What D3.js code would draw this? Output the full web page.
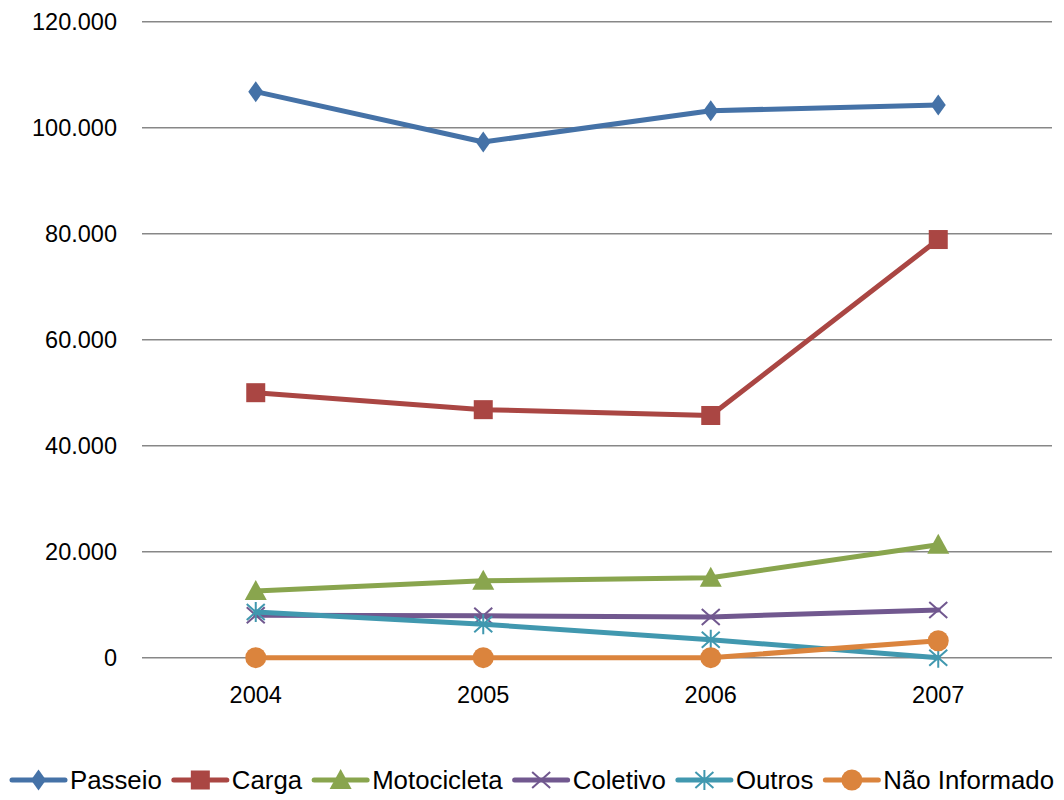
<!DOCTYPE html>
<html>
<head>
<meta charset="utf-8">
<script src="https://cdn.jsdelivr.net/npm/d3@7"></script>
<style>
  html, body { margin: 0; padding: 0; background: #fff; }
  svg { display: block; font-family: "Liberation Sans", Arial, sans-serif; }
</style>
</head>
<body>
<svg id="chart" width="1064" height="800"></svg>
<script>
// Vehicle counts per year, by vehicle type
const years = ["2004", "2005", "2006", "2007"];
const yTicks = [0, 20000, 40000, 60000, 80000, 100000, 120000];

const passeio      = [106800, 97300, 103200, 104300];
const carga        = [50000, 46800, 45700, 78900];
const motocicleta  = [12600, 14500, 15100, 21300];
const coletivo     = [8000, 7900, 7700, 9000];
const outros       = [8600, 6300, 3400, 0];
const naoInformado = [0, 0, 0, 3200];

const seriesNames  = ["Passeio", "Carga", "Motocicleta", "Coletivo", "Outros", "Não Informado"];
const seriesValues = [passeio, carga, motocicleta, coletivo, outros, naoInformado];
const seriesColors = ["#4572A7", "#AA4643", "#89A54E", "#71588F", "#4198AF", "#DB843D"];
const seriesMarkers = ["diamond", "square", "triangle", "x", "asterisk", "circle"];

const series = seriesNames.map((name, i) => ({
  name, values: seriesValues[i], color: seriesColors[i], marker: seriesMarkers[i]
}));

const svg = d3.select("#chart");
const plot = { left: 142, right: 1052, top: 21.7, bottom: 657.7 };
const FONT = "'Liberation Sans', Arial, sans-serif";

const x = d3.scaleBand().domain(years).range([plot.left, plot.right]);
const y = d3.scaleLinear().domain([0, 120000]).range([plot.bottom, plot.top]);
const fmt = v => v === 0 ? "0" : d3.format(",")(v).replace(/,/g, ".");

// Horizontal gridlines
svg.append("g")
  .selectAll("line")
  .data(yTicks)
  .join("line")
  .attr("x1", plot.left).attr("x2", plot.right)
  .attr("y1", d => y(d)).attr("y2", d => y(d))
  .attr("stroke", "#878787").attr("stroke-width", 1.5);

// Y axis labels
const yAxis = svg.append("g")
  .attr("transform", `translate(${plot.left - 25},0)`)
  .call(d3.axisLeft(y).tickValues(yTicks).tickFormat(fmt).tickSize(0).tickPadding(0));
yAxis.select(".domain").remove();
yAxis.selectAll("text")
  .attr("font-size", 23.5).attr("fill", "#000").attr("font-family", FONT);

// X axis labels
const xAxis = svg.append("g")
  .attr("transform", `translate(0,${plot.bottom + 28.5})`)
  .call(d3.axisBottom(x).tickSize(0).tickPadding(0));
xAxis.select(".domain").remove();
xAxis.selectAll("text")
  .attr("font-size", 23.5).attr("fill", "#000").attr("dy", "0.71em").attr("font-family", FONT);

const cx = d => x(d) + x.bandwidth() / 2;

// Marker drawing
function drawMarker(g, type, color) {
  switch (type) {
    case "diamond":
      g.append("path").attr("d", "M0,-10.5L7.5,0L0,10.5L-7.5,0Z").attr("fill", color);
      break;
    case "square":
      g.append("rect").attr("x", -9.5).attr("y", -9.5).attr("width", 19).attr("height", 19).attr("fill", color);
      break;
    case "triangle":
      g.append("path").attr("d", "M0,-11L11,9L-11,9Z").attr("fill", color);
      break;
    case "x":
      g.append("path").attr("d", "M-9,-8L9,8M-9,8L9,-8")
        .attr("stroke", color).attr("stroke-width", 2).attr("fill", "none");
      break;
    case "asterisk":
      g.append("path").attr("d", "M-9,-8L9,8M-9,8L9,-8M0,-10L0,10")
        .attr("stroke", color).attr("stroke-width", 2).attr("fill", "none");
      break;
    case "circle":
      g.append("circle").attr("r", 10.5).attr("fill", color);
      break;
  }
}

const line = d3.line().x(d => cx(d.year)).y(d => y(d.value));

series.forEach(s => {
  const pts = years.map((yr, i) => ({ year: yr, value: s.values[i] }));
  const g = svg.append("g");
  g.append("path")
    .datum(pts)
    .attr("d", line)
    .attr("fill", "none")
    .attr("stroke", s.color)
    .attr("stroke-width", 5)
    .attr("stroke-linejoin", "round")
    .attr("stroke-linecap", "round");
  pts.forEach(p => {
    drawMarker(g.append("g").attr("transform", `translate(${cx(p.year)},${y(p.value)})`), s.marker, s.color);
  });
});

// Legend along the bottom, spread between fixed left and right edges
const legend = svg.append("g").attr("transform", "translate(0,780)");
const legendLeft = 12, legendRight = 1054, swatch = 53, textGap = 5;
const items = series.map(s => {
  const item = legend.append("g");
  item.append("line")
    .attr("x1", 0).attr("x2", swatch).attr("y1", 0).attr("y2", 0)
    .attr("stroke", s.color).attr("stroke-width", 5).attr("stroke-linecap", "round");
  drawMarker(item.append("g").attr("transform", `translate(${swatch / 2},0)`), s.marker, s.color);
  const t = item.append("text")
    .attr("x", swatch + textGap).attr("y", 0).attr("dy", "0.35em")
    .attr("font-size", 25.8).attr("fill", "#000").attr("font-family", FONT)
    .text(s.name);
  return { item, w: swatch + textGap + t.node().getComputedTextLength() };
});
const totalW = d3.sum(items, d => d.w);
const itemGap = (legendRight - legendLeft - totalW) / (items.length - 1);
let lx = legendLeft;
items.forEach(d => {
  d.item.attr("transform", `translate(${lx},0)`);
  lx += d.w + itemGap;
});
</script>
</body>
</html>
